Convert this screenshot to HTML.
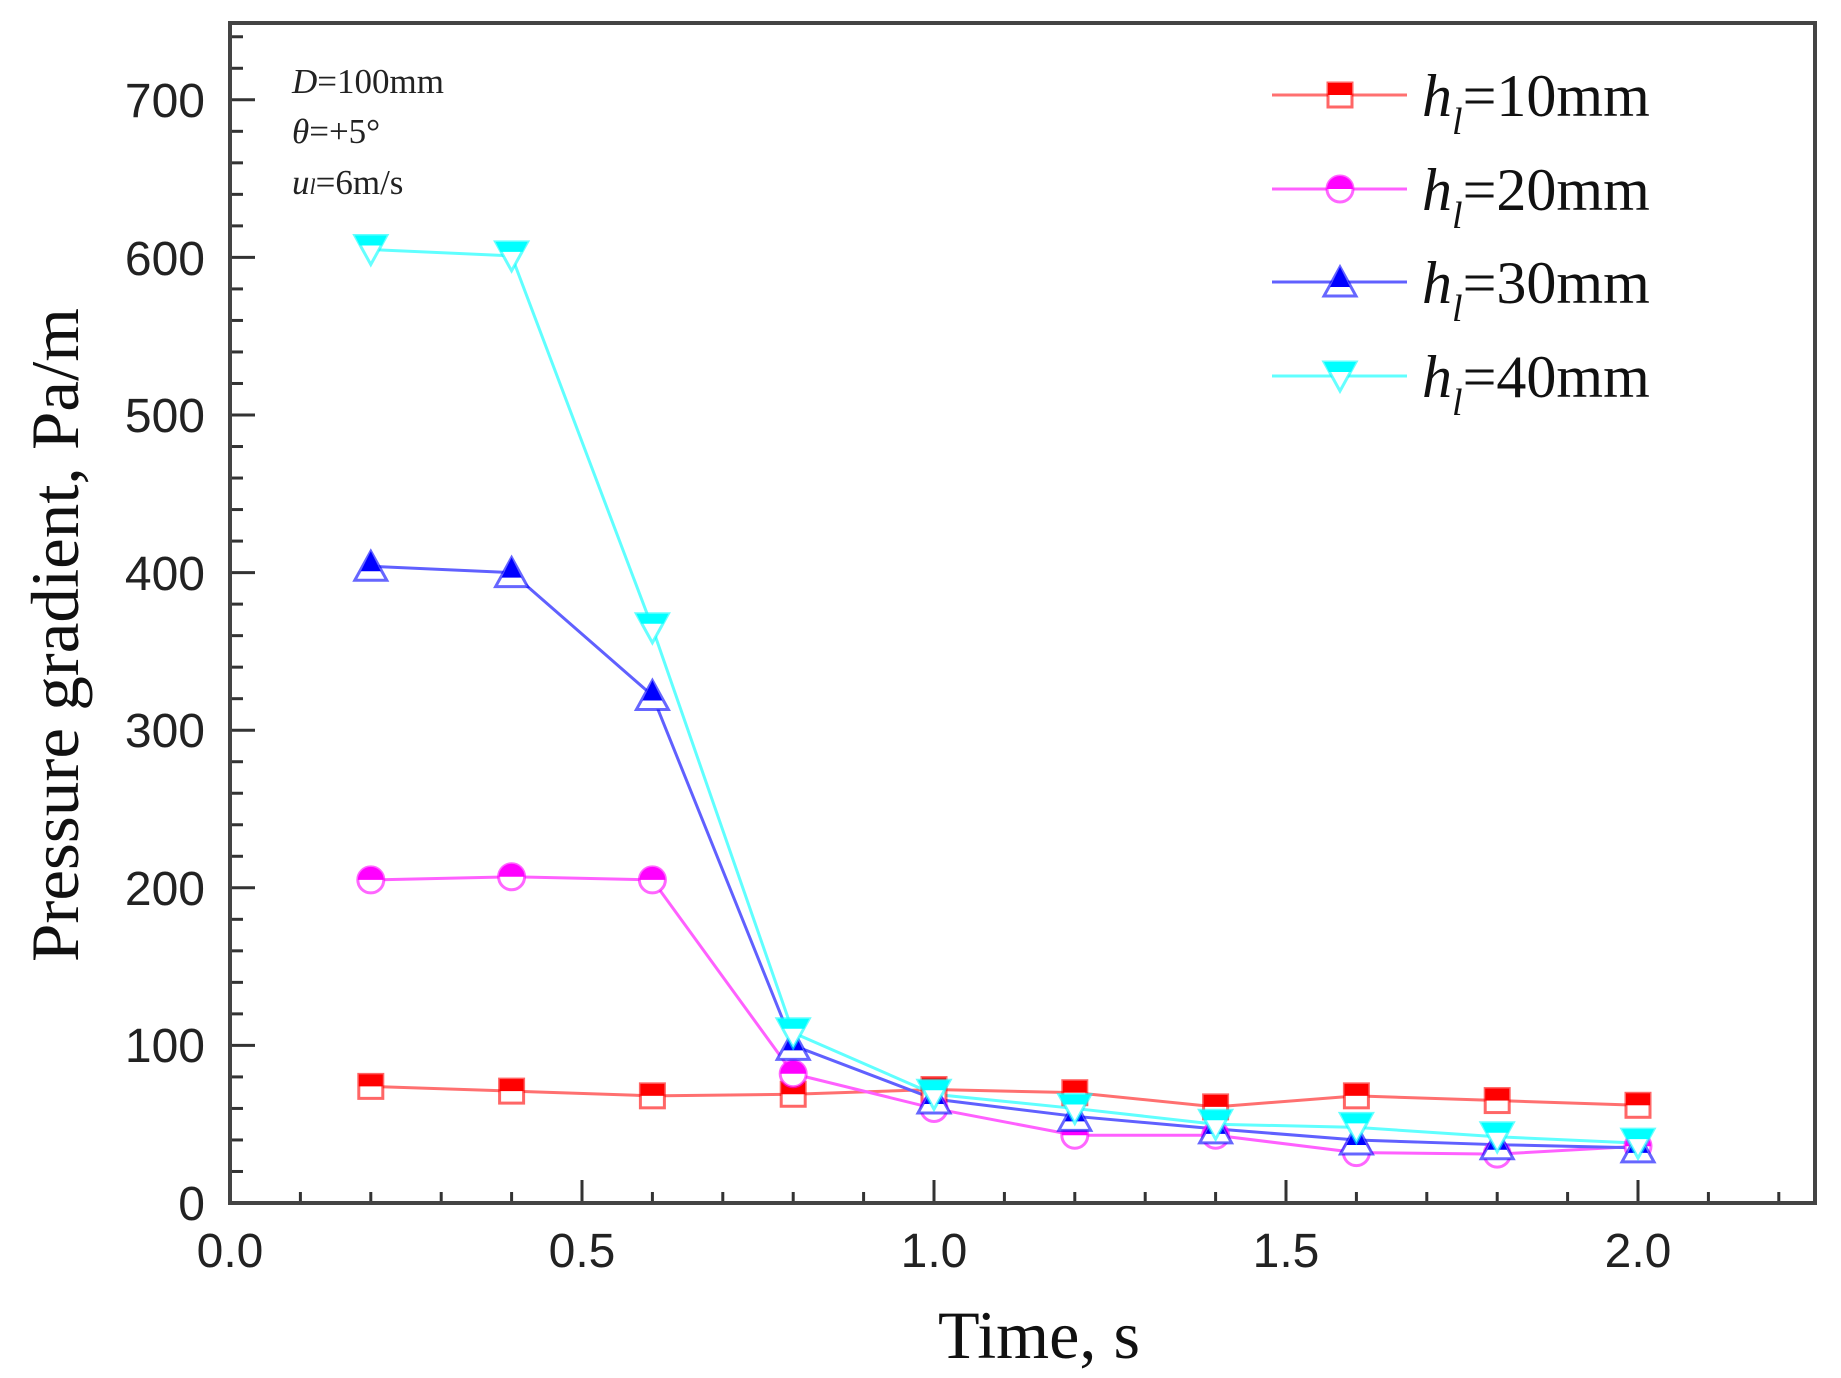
<!DOCTYPE html>
<html><head><meta charset="utf-8"><style>
html,body{margin:0;padding:0;background:#fff}
svg{display:block}
</style></head><body>
<svg id="s" width="1841" height="1378" viewBox="0 0 1841 1378" xmlns="http://www.w3.org/2000/svg">
<rect width="1841" height="1378" fill="#fff"/>
<g id="ticks" stroke="#333" stroke-width="3"></g>
<rect x="230" y="23" width="1585" height="1180" fill="none" stroke="#444" stroke-width="4"/>
<g font-family="Liberation Sans, Arial, sans-serif" font-size="48" fill="#222" text-anchor="end">
<text x="205" y="1220">0</text>
<text x="205" y="1062">100</text>
<text x="205" y="905">200</text>
<text x="205" y="747">300</text>
<text x="205" y="590">400</text>
<text x="205" y="432">500</text>
<text x="205" y="275">600</text>
<text x="205" y="117">700</text>
</g>
<g font-family="Liberation Sans, Arial, sans-serif" font-size="48" fill="#222" text-anchor="middle">
<text x="230" y="1267">0.0</text>
<text x="582" y="1267">0.5</text>
<text x="934" y="1267">1.0</text>
<text x="1286" y="1267">1.5</text>
<text x="1638" y="1267">2.0</text>
</g>
<text x="938" y="1358" font-family="Liberation Serif, serif" font-size="68" fill="#111" textLength="202" lengthAdjust="spacingAndGlyphs">Time, s</text>
<text transform="translate(78,962) rotate(-90)" font-family="Liberation Serif, serif" font-size="68" fill="#111" textLength="654" lengthAdjust="spacingAndGlyphs">Pressure gradient, Pa/m</text>
<g font-family="Liberation Serif, serif" font-size="35" fill="#222">
<text x="292" y="93"><tspan font-style="italic">D</tspan>=100mm</text>
<text x="292" y="143"><tspan font-style="italic">θ</tspan>=+5°</text>
<text x="292" y="194"><tspan font-style="italic">u</tspan><tspan font-style="italic" font-size="22">l</tspan>=6m/s</text>
</g>
<g id="plot"></g>
<g id="leg"></g>
<g font-family="Liberation Serif, serif" font-size="60" fill="#111">
<text x="1422" y="116"><tspan font-style="italic">h</tspan><tspan font-style="italic" font-size="38" dy="18">l</tspan><tspan dy="-18">=10mm</tspan></text>
<text x="1422" y="210"><tspan font-style="italic">h</tspan><tspan font-style="italic" font-size="38" dy="18">l</tspan><tspan dy="-18">=20mm</tspan></text>
<text x="1422" y="303"><tspan font-style="italic">h</tspan><tspan font-style="italic" font-size="38" dy="18">l</tspan><tspan dy="-18">=30mm</tspan></text>
<text x="1422" y="397"><tspan font-style="italic">h</tspan><tspan font-style="italic" font-size="38" dy="18">l</tspan><tspan dy="-18">=40mm</tspan></text>
</g>
</svg>
<script>
var NS="http://www.w3.org/2000/svg";
function el(tag,attrs,parent){var e=document.createElementNS(NS,tag);for(var k in attrs)e.setAttribute(k,attrs[k]);parent.appendChild(e);return e;}
var X=function(t){return 230+704*t;}, Y=function(v){return 1203-1.576*v;};
var tk=document.getElementById('ticks');
for(var i=1;i<=37;i++){var v=i*20;var y=Y(v);if(y<25)break;var L=(v%100==0)?25:13;el('line',{x1:230,y1:y,x2:230+L,y2:y},tk);}
for(var i=1;i<=22;i++){var t=i/10;var x=X(t);var L=(i%5==0)?23:11;el('line',{x1:x,y1:1203,x2:x,y2:1203-L},tk);}
var ts=[0.2,0.4,0.6,0.8,1.0,1.2,1.4,1.6,1.8,2.0];
var S=[
 {c:'#ff0000',l:'#ff7070',m:'sq',d:[74,71,68,69,72,70,61,68,65,62]},
 {c:'#ff00ff',l:'#ff60ff',m:'ci',d:[205,207,205,82,60,43,43,32,31,36]},
 {c:'#0000ff',l:'#6060ff',m:'up',d:[404,400,322,100,66,55,47,40,37,35]},
 {c:'#00ffff',l:'#60ffff',m:'dn',d:[605,601,365,108,69,60,50,48,42,38]}
];
function marker(g,type,cx,cy,col){
 var gg=el('g',{transform:'translate('+cx+','+cy+')'},g);
 if(type=='sq'){el('rect',{x:-12,y:-12,width:24,height:24,fill:'#fff',stroke:col,'stroke-width':3,'stroke-opacity':0.6},gg);el('rect',{x:-12,y:-12,width:24,height:12,fill:col},gg);}
 if(type=='ci'){el('circle',{r:13,fill:'#fff',stroke:col,'stroke-width':3,'stroke-opacity':0.6},gg);el('path',{d:'M-13,0 A13,13 0 0 1 13,0 Z',fill:col},gg);}
 if(type=='up'){el('polygon',{points:'0,-15 16,14 -16,14',fill:'#fff',stroke:col,'stroke-width':3,'stroke-opacity':0.6},gg);el('polygon',{points:'0,-15 10,5 -10,5',fill:col},gg);}
 if(type=='dn'){el('polygon',{points:'-16,-14 16,-14 0,15',fill:'#fff',stroke:col,'stroke-width':3,'stroke-opacity':0.6},gg);el('polygon',{points:'-16,-14 16,-14 11,-4 -11,-4',fill:col},gg);}
}
var p=document.getElementById('plot');
S.forEach(function(s){var pts=ts.map(function(t,i){return X(t)+','+Y(s.d[i]);}).join(' ');el('polyline',{points:pts,fill:'none',stroke:s.l,'stroke-width':3},p);});
S.forEach(function(s){ts.forEach(function(t,i){marker(p,s.m,X(t),Y(s.d[i]),s.c);});});
var lg=document.getElementById('leg');var ly=[95,189,282,376];
S.forEach(function(s,i){el('line',{x1:1272,y1:ly[i],x2:1407,y2:ly[i],stroke:s.l,'stroke-width':3},lg);marker(lg,s.m,1340,ly[i],s.c);});
</script>
</body></html>
